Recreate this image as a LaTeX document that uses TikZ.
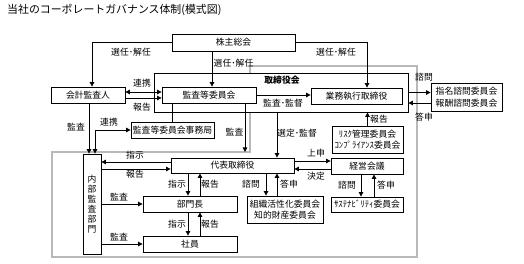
\documentclass[tikz,border=0pt]{standalone}
\usepackage{fontspec}
\setmainfont{Noto Sans CJK JP}
\usetikzlibrary{arrows.meta}
\begin{document}
\begin{tikzpicture}[
  x=1pt, y=-1pt,
  every node/.style={font=\fontsize{8.8}{11.5}\selectfont},
  box/.style={draw, fill=white, line width=0.8pt, align=center, inner sep=0pt},
  lbl/.style={inner sep=0pt},
  arrow/.style={-{Triangle[length=4.5pt,width=4.5pt]}, line width=0.8pt},
  dblarrow/.style={{Triangle[length=4.5pt,width=4.5pt]}-{Triangle[length=4.5pt,width=4.5pt]}, line width=0.8pt}
]
\useasboundingbox (0,0) rectangle (524,264);
% executive area
\draw[gray!55, line width=1.2pt] (250,66) -- (417,66) -- (417,257) -- (52,257) -- (52,152) -- (250,152) -- cycle;
\coordinate (gtop) at (250,152);
\node[anchor=west, inner sep=0pt, font=\fontsize{10.9}{12}\selectfont] (title) at (7,10) {当社のコーポレートガバナンス体制(模式図)};
% boxes
\node[box, minimum width=123pt, minimum height=17pt] (kabu) at (233.5,42.5) {株主総会};
\node[box, minimum width=254pt, minimum height=39pt] (tori) at (281,92.5) {};
\node[lbl, font=\bfseries\fontsize{8.8}{10}\selectfont] (torititle) at (282,80) {取締役会};
\node[box, minimum width=94pt, minimum height=16pt] (kansa) at (209,95) {監査等委員会};
\node[box, minimum width=91pt, minimum height=16pt] (gyomu) at (356.5,96) {業務執行取締役};
\node[box, minimum width=71pt, minimum height=28pt] (shimei) at (466.5,97) {指名諮問委員会\\報酬諮問委員会};
\node[box, minimum width=74pt, minimum height=16pt] (kaikei) at (88,95) {会計監査人};
\node[box, minimum width=83pt, minimum height=16pt] (jimu) at (172.5,130) {監査等委員会事務局};
\node[box, minimum width=71pt, minimum height=27pt] (risk) at (367.5,139.5) {ﾘｽｸ管理委員会\\ｺﾝﾌﾟﾗｲｱﾝｽ委員会};
\node[box, minimum width=123pt, minimum height=15pt] (daihyo) at (232.5,165.5) {代表取締役};
\node[box, minimum width=72pt, minimum height=16pt] (keiei) at (367,166) {経営会議};
\node[box, minimum width=18pt, minimum height=100pt, font=\fontsize{8.8}{10}\selectfont] (naibu) at (92,204) {内\\部\\監\\査\\部\\門};
\node[box, minimum width=94pt, minimum height=16pt] (bumon) at (190,204) {部門長};
\node[box, minimum width=94pt, minimum height=16pt] (shain) at (190,244) {社員};
\node[box, minimum width=76pt, minimum height=27pt] (soshiki) at (285,209.5) {組織活性化委員会\\知的財産委員会};
\node[box, minimum width=72pt, minimum height=15pt] (sus) at (367,204.5) {ｻｽﾃﾅﾋﾞﾘﾃｨ委員会};
% shareholders
\draw[arrow] (kabu.west) -| ([xshift=4pt]kaikei.north);
\node[lbl] (l1) at (131,52) {選任･解任};
\draw[arrow] ([xshift=3pt]kansa.north |- kabu.south) -- ([xshift=3pt]kansa.north);
\node[lbl, anchor=west] (l2) at (213.5,63) {選任･解任};
\draw[arrow] (kabu.east) -| ([xshift=10.5pt]gyomu.north);
\node[lbl] (l3) at (336,52) {選任･解任};
% audit
\draw[dblarrow] ([yshift=3pt]kaikei.east) -- ([yshift=3pt]kansa.west);
\node[lbl] (l4) at (142,83) {連携};
\draw[arrow] ([yshift=-3pt]kaikei.east) -- ([yshift=-3pt]kansa.west);
\node[lbl] (l5) at (142,107) {報告};
\draw[arrow] (kansa.east) -- (kansa.east -| gyomu.west);
\node[lbl] (l6) at (283,103) {監査･監督};
\draw[arrow] (tori.east) -- (tori.east -| shimei.west);
\node[lbl] (l7) at (424,77) {諮問};
\draw[arrow] ([yshift=-10.5pt]tori.east -| shimei.west) -- ([yshift=-10.5pt]tori.east);
\node[lbl] (l8) at (424,117) {答申};
\draw (kansa.south -| jimu.north) -- (jimu.north);
\draw[arrow] ([xshift=36pt]kansa.south) -- ([xshift=36pt]kansa.south |- gtop);
\node[lbl] (l9) at (234.5,132) {監査};
\draw[arrow] ([xshift=1pt]kaikei.south) -- ([xshift=-3pt]naibu.north);
\node[lbl] (l10) at (76,127) {監査};
\draw[dblarrow] ([xshift=3pt]naibu.north) |- (jimu.west);
\node[lbl] (l11) at (109,122) {連携};
% executive
\draw[arrow] ([xshift=44.5pt]daihyo.north |- tori.south) -- ([xshift=44.5pt]daihyo.north);
\node[lbl] (l12) at (297,133) {選定･監督};
\draw[arrow] (risk.north) -- (risk.north |- tori.south);
\node[lbl] (l13) at (379,119) {報告};
\draw[arrow] ([yshift=3.5pt]daihyo.west) -- ([yshift=3.5pt]daihyo.west -| naibu.east);
\node[lbl] (l14) at (135,155) {指示};
\draw[arrow] ([yshift=-3.5pt]daihyo.west -| naibu.east) -- ([yshift=-3.5pt]daihyo.west);
\node[lbl] (l15) at (135,174) {報告};
\draw[arrow] ([yshift=4.5pt]daihyo.east) -- ([yshift=4.5pt]daihyo.east -| keiei.west);
\node[lbl] (l16) at (316,153) {上申};
\draw[arrow] ([yshift=-3.5pt]daihyo.east -| keiei.west) -- ([yshift=-3.5pt]daihyo.east);
\node[lbl] (l17) at (316,176) {決定};
\draw[arrow] ([xshift=-2pt]bumon.north |- daihyo.south) -- ([xshift=-2pt]bumon.north);
\node[lbl] (l18) at (177,184) {指示};
\draw[arrow] ([xshift=10pt]bumon.north) -- ([xshift=10pt]bumon.north |- daihyo.south);
\node[lbl] (l19) at (210,184) {報告};
\draw[arrow] ([xshift=-2pt]bumon.south) -- ([xshift=-2pt]shain.north);
\node[lbl] (l20) at (177,224) {指示};
\draw[arrow] ([xshift=10pt]shain.north) -- ([xshift=10pt]bumon.south);
\node[lbl] (l21) at (210,224) {報告};
\draw[arrow] (naibu.east |- bumon.west) -- (bumon.west);
\node[lbl] (l22) at (119,197) {監査};
\draw[arrow] (naibu.east |- shain.west) -- (shain.west);
\node[lbl] (l23) at (119,237) {監査};
\draw[arrow] ([xshift=-19pt]soshiki.north |- daihyo.south) -- ([xshift=-19pt]soshiki.north);
\node[lbl] (l24) at (251,184) {諮問};
\draw[arrow] ([xshift=-8pt]soshiki.north) -- ([xshift=-8pt]soshiki.north |- daihyo.south);
\node[lbl] (l25) at (289,184) {答申};
\draw[arrow] ([xshift=-6pt]keiei.south) -- ([xshift=-6pt]sus.north);
\node[lbl] (l26) at (347,185) {諮問};
\draw[arrow] ([xshift=7pt]sus.north) -- ([xshift=7pt]keiei.south);
\node[lbl] (l27) at (386,185) {答申};
\end{tikzpicture}
\end{document}
